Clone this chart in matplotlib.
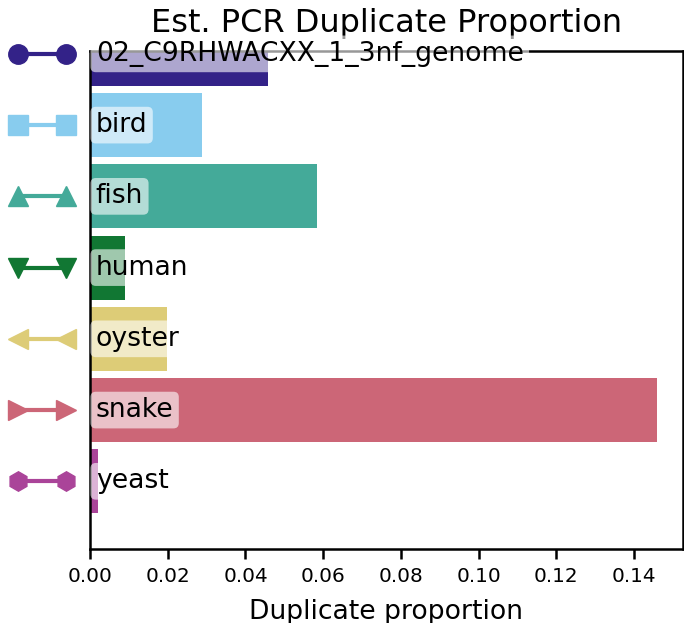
import matplotlib
matplotlib.use("Agg")
import matplotlib.pyplot as plt

categories = ["02_C9RHWACXX_1_3nf_genome", "bird", "fish", "human", "oyster", "snake", "yeast"]
values = [0.0458, 0.0288, 0.0584, 0.0090, 0.0198, 0.1459, 0.0021]
colors = ["#332288", "#88CCEE", "#44AA99", "#117733", "#DDCC77", "#CC6677", "#AA4499"]
markers = ["o", "s", "^", "v", "<", ">", "h"]
xticks = [0.00, 0.02, 0.04, 0.06, 0.08, 0.10, 0.12, 0.14]

fig = plt.figure(figsize=(6.84, 6.23), dpi=100)
ax = fig.add_axes([0.1316, 0.1188, 0.8669, 0.7993])

ypos = list(range(len(categories)))
ax.barh(ypos, values, height=0.9, color=colors)
ax.set_ylim(6.95, -0.04)
ax.set_xlim(0, 0.1526)
ax.set_yticks([])
ax.set_xticks(xticks)
ax.set_xticklabels([f"{t:.2f}" for t in xticks], fontsize=14.4)
ax.tick_params(axis="x", length=7, width=1.8, pad=6)
for s in ax.spines.values():
    s.set_linewidth(1.8)

for y, c, m, lab in zip(ypos, colors, markers, categories):
    ax.plot([-0.121, -0.040], [y, y], transform=ax.get_yaxis_transform(),
            color=c, marker=m, markersize=14, linewidth=3, clip_on=False)
    ax.text(0.0015, y, lab, fontsize=19.2, va="center", ha="left", zorder=5,
            bbox=dict(boxstyle="round,pad=0.2", facecolor="white", edgecolor="none", alpha=0.6))

ax.set_xlabel("Duplicate proportion", fontsize=19.2, labelpad=9)
ax.set_title("Est. PCR Duplicate Proportion", fontsize=23, pad=14)

fig.savefig("out.png", dpi=100)
